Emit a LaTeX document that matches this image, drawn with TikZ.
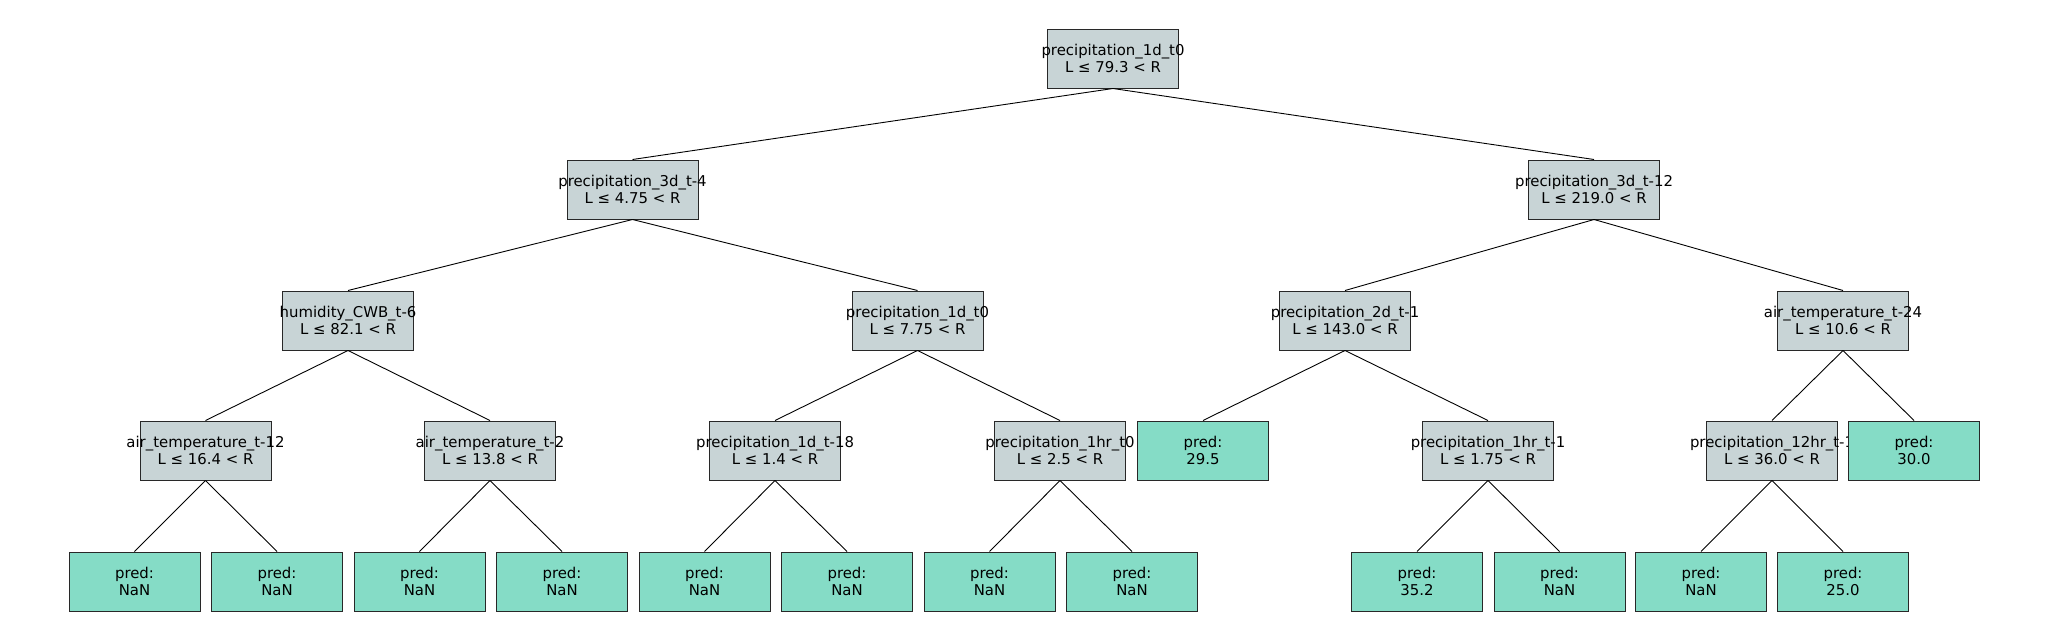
\documentclass[tikz,border=0pt]{standalone}
\usepackage{fontspec}
\setmainfont{DejaVu Sans}
\definecolor{splitfill}{RGB}{200,212,214}
\definecolor{leaffill}{RGB}{133,220,198}
\definecolor{boxline}{RGB}{40,40,40}
\newcommand{\tl}[2]{\makebox[0pt]{#1}\\\makebox[0pt]{#2}}
\begin{document}
\begin{tikzpicture}[x=1pt,y=-1pt,
  box/.style={draw=boxline,line width=1pt,minimum width=131pt,minimum height=59pt,inner sep=0pt,align=center,font=\fontsize{14.9}{17}\selectfont},
  split/.style={box,fill=splitfill},
  leaf/.style={box,fill=leaffill},
  edge/.style={draw=black,line width=0.9pt}]
\useasboundingbox (0,0) rectangle (2048,640);
\node[split] (r) at (1113,58.5) {\tl{precipitation\_1d\_t0}{L ≤ 79.3 < R}};
\node[split] (a) at (632.5,189.5) {\tl{precipitation\_3d\_t-4}{L ≤ 4.75 < R}};
\node[split] (b) at (1594,189.5) {\tl{precipitation\_3d\_t-12}{L ≤ 219.0 < R}};
\node[split] (aa) at (348,320.5) {\tl{humidity\_CWB\_t-6}{L ≤ 82.1 < R}};
\node[split] (ab) at (917.5,320.5) {\tl{precipitation\_1d\_t0}{L ≤ 7.75 < R}};
\node[split] (ba) at (1345,320.5) {\tl{precipitation\_2d\_t-1}{L ≤ 143.0 < R}};
\node[split] (bb) at (1843,320.5) {\tl{air\_temperature\_t-24}{L ≤ 10.6 < R}};
\node[split] (aaa) at (205.5,450.5) {\tl{air\_temperature\_t-12}{L ≤ 16.4 < R}};
\node[split] (aab) at (490,450.5) {\tl{air\_temperature\_t-2}{L ≤ 13.8 < R}};
\node[split] (aba) at (775,450.5) {\tl{precipitation\_1d\_t-18}{L ≤ 1.4 < R}};
\node[split] (abb) at (1060,450.5) {\tl{precipitation\_1hr\_t0}{L ≤ 2.5 < R}};
\node[leaf] (baa) at (1203,450.5) {\tl{pred:}{29.5}};
\node[split] (bab) at (1488,450.5) {\tl{precipitation\_1hr\_t-1}{L ≤ 1.75 < R}};
\node[split] (bba) at (1772,450.5) {\tl{precipitation\_12hr\_t-1}{L ≤ 36.0 < R}};
\node[leaf] (bbb) at (1914,450.5) {\tl{pred:}{30.0}};
\node[leaf] (l1) at (134.5,581.5) {\tl{pred:}{NaN}};
\node[leaf] (l2) at (277,581.5) {\tl{pred:}{NaN}};
\node[leaf] (l3) at (419.5,581.5) {\tl{pred:}{NaN}};
\node[leaf] (l4) at (562,581.5) {\tl{pred:}{NaN}};
\node[leaf] (l5) at (704.5,581.5) {\tl{pred:}{NaN}};
\node[leaf] (l6) at (847,581.5) {\tl{pred:}{NaN}};
\node[leaf] (l7) at (989.5,581.5) {\tl{pred:}{NaN}};
\node[leaf] (l8) at (1132,581.5) {\tl{pred:}{NaN}};
\node[leaf] (l9) at (1417,581.5) {\tl{pred:}{35.2}};
\node[leaf] (l10) at (1559.5,581.5) {\tl{pred:}{NaN}};
\node[leaf] (l11) at (1701,581.5) {\tl{pred:}{NaN}};
\node[leaf] (l12) at (1843,581.5) {\tl{pred:}{25.0}};
\foreach \p/\c in {r/a,r/b,a/aa,a/ab,b/ba,b/bb,aa/aaa,aa/aab,ab/aba,ab/abb,ba/baa,ba/bab,bb/bba,bb/bbb,aaa/l1,aaa/l2,aab/l3,aab/l4,aba/l5,aba/l6,abb/l7,abb/l8,bab/l9,bab/l10,bba/l11,bba/l12}
  \draw[edge] (\p.south) -- (\c.north);
\end{tikzpicture}
\end{document}
